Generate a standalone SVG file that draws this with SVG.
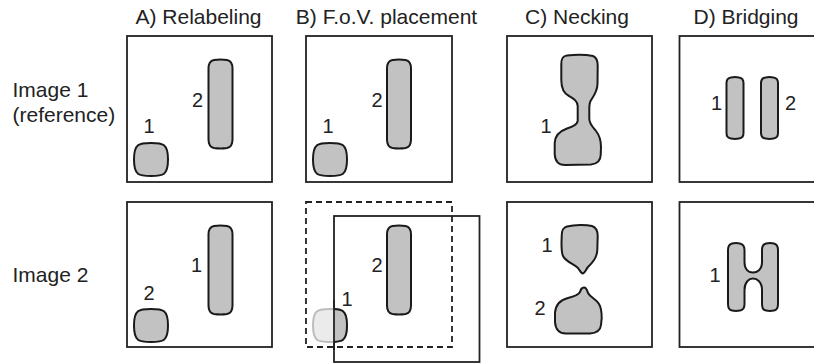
<svg xmlns="http://www.w3.org/2000/svg" xmlns:xlink="http://www.w3.org/1999/xlink" width="814" height="364" viewBox="0 0 814 364">
<style>
text{font-family:"Liberation Sans",Arial,sans-serif;fill:#222}
.title{font-size:21px;text-anchor:middle}
.row{font-size:21px}
.lbl{font-size:20px;text-anchor:middle}
.frame{fill:#fff;stroke:#222;stroke-width:1.8}
.dash{fill:none;stroke:#222;stroke-width:1.8;stroke-dasharray:6 4}
.cell{fill:#c2c2c2;stroke:#1a1a1a;stroke-width:2;stroke-linejoin:round}
.faded{fill:#ebebeb;stroke:#bdbdbd;stroke-width:2}
</style>
<defs>
<path id="sq" d="M17,0 C29,0 34,0.5 34,16.5 C34,32.5 29,33 17,33 C5,33 0,32.5 0,16.5 C0,0.5 5,0 17,0 Z"/>
<path id="tall" d="M5.5,0.5 Q12,-0.5 18.5,0.5 Q24,1.5 24,9 L24,80 Q24,87.5 18.5,88.5 Q12,89.5 5.5,88.5 Q0,87.5 0,80 L0,9 Q0,1.5 5.5,0.5 Z"/>
<path id="bar" d="M4.5,0.5 Q8.5,-0.3 12.5,0.5 Q17,1 17,6 L17,56 Q17,61 12.5,61.5 Q8.5,62.3 4.5,61.5 Q0,61 0,56 L0,6 Q0,1 4.5,0.5 Z"/>
<clipPath id="inview"><rect x="334" y="216" width="146" height="146"/></clipPath>
</defs>

<g id="titles">
<text class="title" x="198.5" y="23.5">A) Relabeling</text>
<text class="title" x="386.5" y="23.5">B) F.o.V. placement</text>
<text class="title" x="577" y="23.5">C) Necking</text>
<text class="title" x="746" y="23.5">D) Bridging</text>
</g>
<g id="rowlabels">
<text class="row" x="12.5" y="97">Image 1</text>
<text class="row" x="12.5" y="121.5">(reference)</text>
<text class="row" x="12.5" y="282">Image 2</text>
</g>

<g id="A1">
<rect class="frame" x="127" y="36" width="145" height="146"/>
<use xlink:href="#sq" class="cell" x="134" y="143"/>
<use xlink:href="#tall" class="cell" x="208.5" y="59.5"/>
<text class="lbl" x="149" y="133">1</text>
<text class="lbl" x="197.5" y="107">2</text>
</g>

<g id="B1">
<rect class="frame" x="306" y="36" width="146" height="146"/>
<use xlink:href="#sq" class="cell" x="313" y="143"/>
<use xlink:href="#tall" class="cell" x="387" y="59.5"/>
<text class="lbl" x="328" y="133">1</text>
<text class="lbl" x="377" y="107">2</text>
</g>

<g id="C1">
<rect class="frame" x="507" y="36" width="145" height="146"/>
<path class="cell" d="M567,55.5 C577,54.5 585,54.5 593,56 C597,57.5 597.7,61 597.7,66 L597.5,84 C597.3,92 593,97 590.5,101 C589,104 589.3,108 589.3,112 L589.3,119 C589.5,124 592,126 596,131 C600,136 601,141 601,147 L600.7,155 C600.5,161 597,164 591,164.5 L565,165 C558,165 555,161 554.7,154 L554.7,143 C555,135 560,131 567,128.5 C572,127 577,125 577.7,121 L577.7,106 C577.5,101 574,99 569,96 C563,93 561.3,88 561.3,80 L561.3,64 C561.3,58 563,56 567,55.5 Z"/>
<text class="lbl" x="546" y="133">1</text>
</g>

<g id="D1">
<rect class="frame" x="679.5" y="36" width="145" height="146"/>
<use xlink:href="#bar" class="cell" x="726.5" y="77"/>
<use xlink:href="#bar" class="cell" x="761" y="77"/>
<text class="lbl" x="716.5" y="110">1</text>
<text class="lbl" x="790.5" y="110">2</text>
</g>

<g id="A2">
<rect class="frame" x="127" y="202" width="145" height="145"/>
<use xlink:href="#sq" class="cell" x="134" y="309"/>
<use xlink:href="#tall" class="cell" x="208.5" y="225.5"/>
<text class="lbl" x="149" y="300">2</text>
<text class="lbl" x="196.5" y="272">1</text>
</g>

<g id="B2">
<rect class="frame" x="334" y="216" width="145.5" height="146"/>
<rect class="dash" x="306" y="202" width="146" height="145"/>
<use xlink:href="#sq" class="faded" x="313" y="309"/>
<g clip-path="url(#inview)">
<use xlink:href="#sq" class="cell" x="313" y="309"/>
</g>
<line x1="334" y1="300" x2="334" y2="350" stroke="#222" stroke-width="1.8"/>
<use xlink:href="#tall" class="cell" x="387" y="225.5"/>
<text class="lbl" x="347" y="306">1</text>
<text class="lbl" x="377" y="272">2</text>
</g>

<g id="C2">
<rect class="frame" x="507" y="202" width="145" height="145"/>
<path class="cell" d="M567,226.5 C575,224.5 586,224.5 592,226 C596.5,227.5 597.7,231 597.7,236 L597.3,250 C597,258 592,263 588,267 C585.5,270 585,273 583,273.5 C581,273.5 580,270.5 578,268 C574,264 566,262 563,256 C561.5,253 561.5,248 561.5,243 L561.7,236 C561.7,230 563,227.5 567,226.5 Z"/>
<path class="cell" d="M584,287.5 C586.5,287.5 587,290 588,293 C590,297 596,299 599,304 C601.5,308 601.7,313 601.7,318 L601,325 C600.5,330 597,333 590,333.5 L566,333.5 C559,333.5 555.5,329 555,322 L555,313 C555.5,305 560,300 568,298 C574,296.5 578.5,295 580,292 C581,289 581.5,287.5 584,287.5 Z"/>
<text class="lbl" x="547" y="251.5">1</text>
<text class="lbl" x="540" y="315">2</text>
</g>

<g id="D2">
<rect class="frame" x="679.5" y="202" width="145" height="145"/>
<path class="cell" d="M732,243.5 Q736,242.5 740,243.5 Q744.5,244.5 744.5,250 L744.5,262 C744.5,270 749,272.5 753,272.5 C757,272.5 762,270 762,262 L762,250 Q762,244.5 766,243.5 Q770,242.5 774,243.5 Q778,244.5 778,250 L778,304 Q778,310 774,310.5 Q770,311.3 766,310.5 Q762,310 762,304 L762,290 C762,282 757,278.5 753,278.5 C749,278.5 744.5,282 744.5,290 L744.5,304 Q744.5,310 740,310.5 Q736,311.3 732,310.5 Q728,310 728,304 L728,250 Q728,244.5 732,243.5 Z"/>
<text class="lbl" x="715" y="282">1</text>
</g>
</svg>
